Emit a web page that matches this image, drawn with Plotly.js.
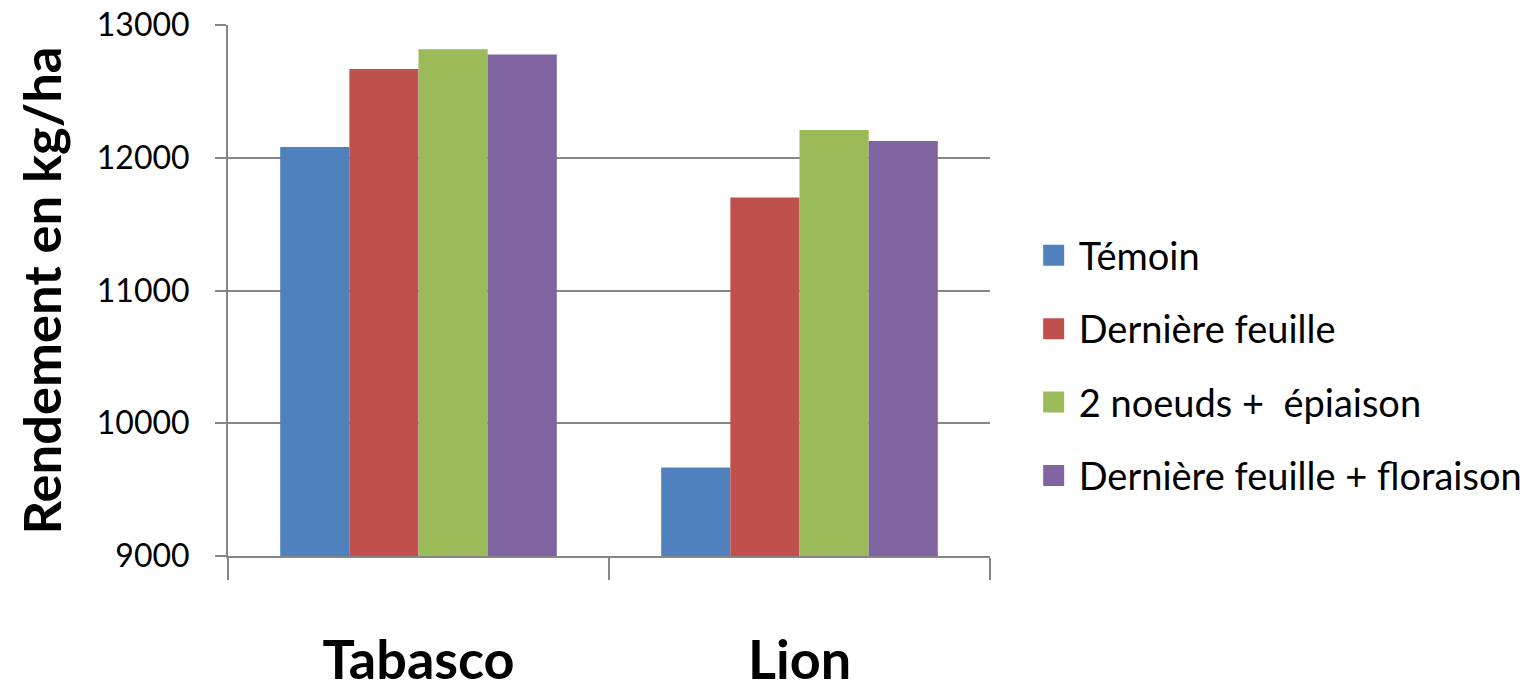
<!DOCTYPE html>
<html>
<head>
<meta charset="utf-8">
<script src="https://cdn.plot.ly/plotly-3.0.1.min.js"></script>
<style>html,body{margin:0;padding:0;background:#fff;}#chart{width:1531px;height:691px;}</style>
</head>
<body>
<div id="chart"></div>
<script>
const categories = ["Tabasco", "Lion"];
const seriesNames = ["Témoin", "Dernière feuille", "2 noeuds +  épiaison", "Dernière feuille + floraison"];
const temoin = [12081, 9666];
const derniereFeuille = [12669, 11700];
const deuxNoeuds = [12817, 12209];
const derniereFloraison = [12777, 12126];
const yTicks = [9000, 10000, 11000, 12000, 13000];
const yTitle = "Rendement en kg/ha";

const colors = ["#4F81BD", "#C0504D", "#9BBB59", "#8064A2"];
const seriesValues = [temoin, derniereFeuille, deuxNoeuds, derniereFloraison];
const FONT = "Lato, 'Open Sans', sans-serif";
const GRID = "#868686";

const traces = [];
seriesValues.forEach((vals, i) => {
  traces.push({
    type: "bar", x: categories, y: vals, name: seriesNames[i],
    marker: {color: colors[i], line: {width: 0}},
    showlegend: false, hoverinfo: "x+y+name"
  });
});
// legend entries (no data drawn)
seriesValues.forEach((vals, i) => {
  traces.push({
    type: "scatter", mode: "markers", x: [categories[0]], y: [null], name: seriesNames[i],
    legendgroup: "g" + i,
    marker: {symbol: "square", size: 16, color: colors[i], line: {color: colors[i], width: 5}},
    showlegend: true, hoverinfo: "skip"
  });
});

const layout = {
  width: 1531, height: 691,
  margin: {l: 228, r: 541, t: 25, b: 135, pad: 0},
  paper_bgcolor: "#fff", plot_bgcolor: "#fff",
  font: {family: FONT, color: "#000"},
  barmode: "group", bargap: 0.274, bargroupgap: 0,
  xaxis: {
    type: "category", showline: true, linecolor: GRID, linewidth: 2,
    ticks: "outside", tickson: "boundaries", ticklen: 22, tickwidth: 2, tickcolor: GRID,
    showgrid: false, tickfont: {family: FONT, size: 54, color: "#000", weight: "bold"},
    ticklabelstandoff: 56, fixedrange: true
  },
  yaxis: {
    range: [9000, 13000], tickvals: yTicks, ticktext: yTicks.map(String),
    showline: true, linecolor: GRID, linewidth: 2,
    ticks: "outside", ticklen: 11, tickwidth: 2, tickcolor: GRID,
    showgrid: true, gridcolor: GRID, gridwidth: 2, zeroline: false,
    tickfont: {family: FONT, size: 32, color: "#000"},
    ticklabelstandoff: 19,
    title: {text: yTitle, font: {family: FONT, size: 52.5, color: "#000", weight: "bold"}, standoff: 18},
    fixedrange: true
  },
  showlegend: true,
  legend: {
    xref: "container", yref: "container",
    x: 0.6719, xanchor: "left", y: 0.471, yanchor: "middle",
    font: {family: FONT, size: 38, color: "#000"},
    itemwidth: 40, traceorder: "grouped", tracegroupgap: 21,
    bgcolor: "rgba(0,0,0,0)", borderwidth: 0
  }
};

Plotly.newPlot("chart", traces, layout, {displayModeBar: false, staticPlot: true});
</script>
</body>
</html>
